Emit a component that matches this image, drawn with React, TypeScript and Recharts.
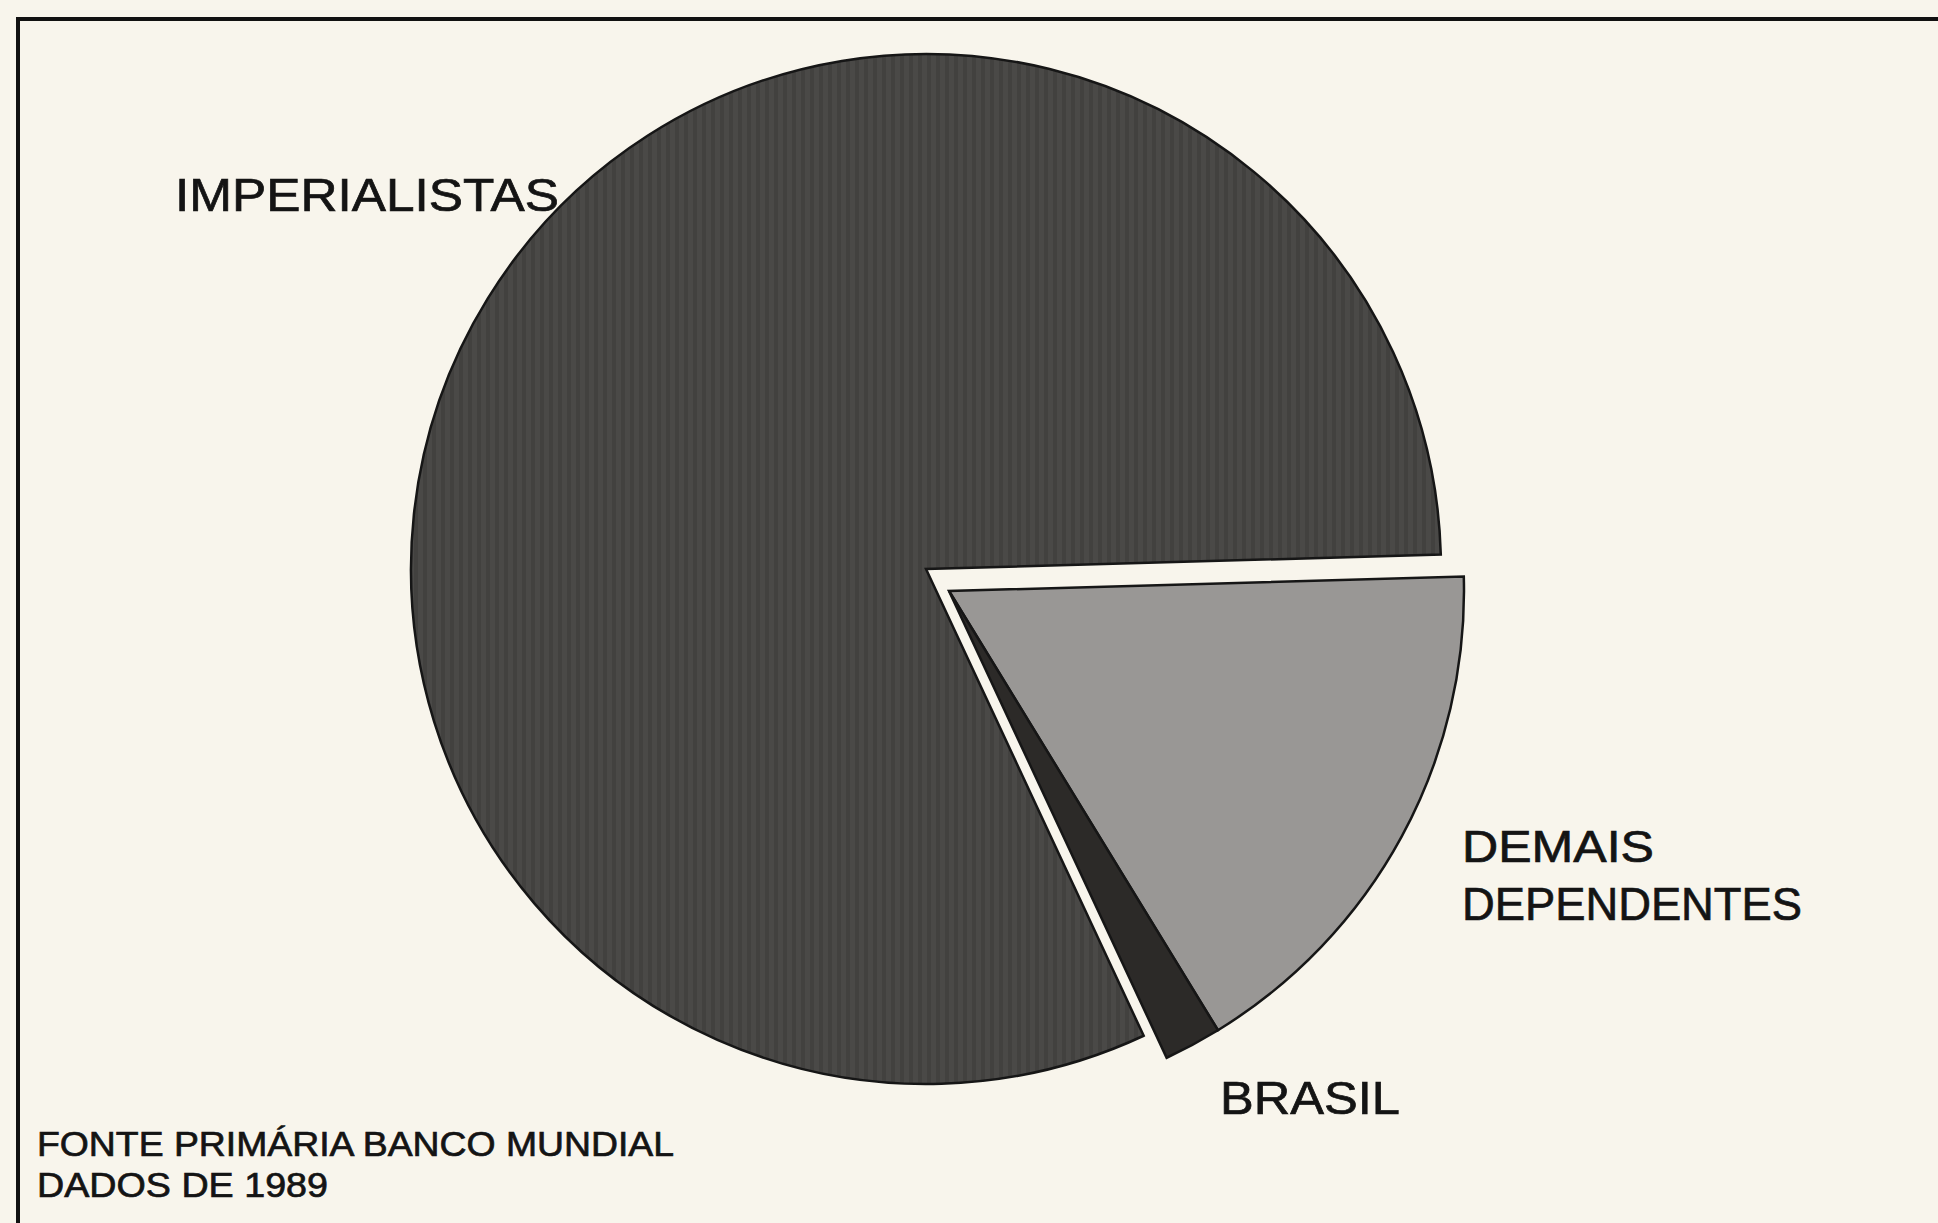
import React from 'react';
import { PieChart, Pie, Cell } from 'recharts';

const categories = ['DEMAIS DEPENDENTES', 'BRASIL', 'IMPERIALISTAS'];
const shares = [16.7, 1.8, 81.5];
const colors = ['#999795', '#2c2a28', 'url(#stripes)'];
const exploded = [true, true, false];

const data = categories.map((name, i) => ({ name, value: shares[i] }));

const W = 1938;
const H = 1223;
const R = 515;
const START = 1.6;

const font = '"Liberation Sans", Arial, Helvetica, sans-serif';

export default function App() {
  return (
    <div style={{ position: 'absolute', left: 0, top: 0, width: W, height: H, background: '#f8f5ec', overflow: 'hidden' }}>
      <svg width={0} height={0} style={{ position: 'absolute' }}>
        <defs>
          <pattern id="stripes" patternUnits="userSpaceOnUse" width={9} height={40}>
            <rect x={0} y={0} width={9} height={40} fill="#4a4947" />
            <rect x={0} y={0} width={4} height={40} fill="#42413f" />
          </pattern>
        </defs>
      </svg>
      <div style={{ position: 'absolute', left: 16, top: 17, right: -10, bottom: -10, borderTop: '4px solid #111', borderLeft: '4px solid #111' }} />
      <div style={{ position: 'absolute', left: 0, top: 0 }}>
        <PieChart width={W} height={H} margin={{ top: 0, right: 0, bottom: 0, left: 0 }}>
          <Pie
            data={data}
            dataKey="value"
            nameKey="name"
            cx={926}
            cy={569}
            outerRadius={R}
            innerRadius={0}
            startAngle={START}
            endAngle={START - 360}
            stroke="#161616"
            strokeWidth={2.5}
            isAnimationActive={false}
            label={false}
            labelLine={false}
          >
            {data.map((d, i) => (
              <Cell key={d.name} fill={exploded[i] ? 'none' : colors[i]} stroke={exploded[i] ? 'none' : '#161616'} />
            ))}
          </Pie>
          <Pie
            data={data}
            dataKey="value"
            nameKey="name"
            cx={949}
            cy={591}
            outerRadius={R}
            innerRadius={0}
            startAngle={START}
            endAngle={START - 360}
            stroke="#161616"
            strokeWidth={2.5}
            isAnimationActive={false}
            label={false}
            labelLine={false}
          >
            {data.map((d, i) => (
              <Cell key={d.name} fill={exploded[i] ? colors[i] : 'none'} stroke={exploded[i] ? '#161616' : 'none'} />
            ))}
          </Pie>
        </PieChart>
      </div>
      <svg width={W} height={H} style={{ position: 'absolute', left: 0, top: 0, pointerEvents: 'none' }}>
        <g fill="#141414" stroke="#141414" strokeWidth={0.7} fontFamily={font}>
          <text x={175} y={211} fontSize={46} textLength={384} lengthAdjust="spacingAndGlyphs">IMPERIALISTAS</text>
          <text x={1462} y={862} fontSize={45} textLength={192} lengthAdjust="spacingAndGlyphs">DEMAIS</text>
          <text x={1462} y={920} fontSize={46} textLength={340} lengthAdjust="spacingAndGlyphs">DEPENDENTES</text>
          <text x={1220} y={1114} fontSize={46} textLength={180} lengthAdjust="spacingAndGlyphs">BRASIL</text>
          <text x={37} y={1156} fontSize={35} textLength={637} lengthAdjust="spacingAndGlyphs">FONTE PRIMÁRIA BANCO MUNDIAL</text>
          <text x={37} y={1197} fontSize={35} textLength={291} lengthAdjust="spacingAndGlyphs">DADOS DE 1989</text>
        </g>
      </svg>
    </div>
  );
}
